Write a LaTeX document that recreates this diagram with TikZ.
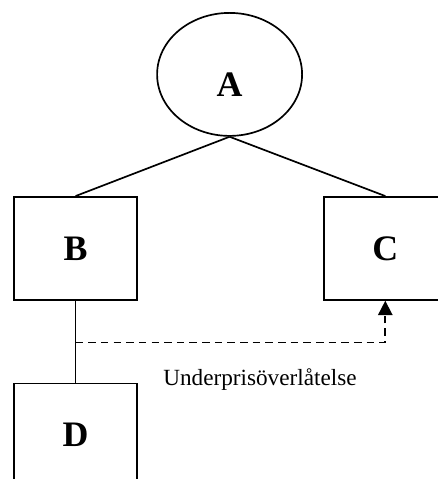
\documentclass[tikz,border=0pt]{standalone}
\usepackage{fontspec}
\setmainfont{Liberation Serif}
\usepackage{tikz}
\usetikzlibrary{positioning, shapes, arrows.meta, calc}

\begin{document}
\begin{tikzpicture}[line width=1.2pt, every node/.style={font=\fontsize{16.5}{20}\selectfont}]
      \tikzstyle{firm}=[rectangle, draw, minimum width=3.075cm, minimum height=2.575cm, inner sep=0pt, font=\fontsize{25.5}{30}\selectfont\bfseries]
      \tikzstyle{owner}=[ellipse, draw, minimum width=3.625cm, minimum height=3.075cm, inner sep=0pt]
      \tikzstyle{letter}=[font=\fontsize{25.5}{30}\selectfont\bfseries, inner sep=0pt]
      \useasboundingbox (0,0) rectangle (10.95,-11.975);
      \clip (0,0) rectangle (10.95,-11.975);
      \node[owner] (A) at (5.74,-1.86) {};
      \node[letter, anchor=base] (Aname) at ([yshift=-0.56cm]A.center) {A};
      \node[firm] (B) at (1.89,-6.21) {B};
      \node[firm, right=4.625cm of B] (C) {C};
      \node[firm, below=2.05cm of B] (D) {D};
      \draw (A.south) -- (B.north);
      \draw (A.south) -- (C.north);
      \draw (B.south) -- (D.north);
      % transfer below market value
      \coordinate (split) at ($(B.south)!0.51!(D.north)$);
      \draw[dash pattern=on 5.4pt off 3.6pt, -{Triangle[length=0.36cm, width=0.36cm]}] (split) -| (C.south);
      \node[anchor=base] (deal) at (6.5,-9.625) {Underprisöverlåtelse};
    \end{tikzpicture}
\end{document}
